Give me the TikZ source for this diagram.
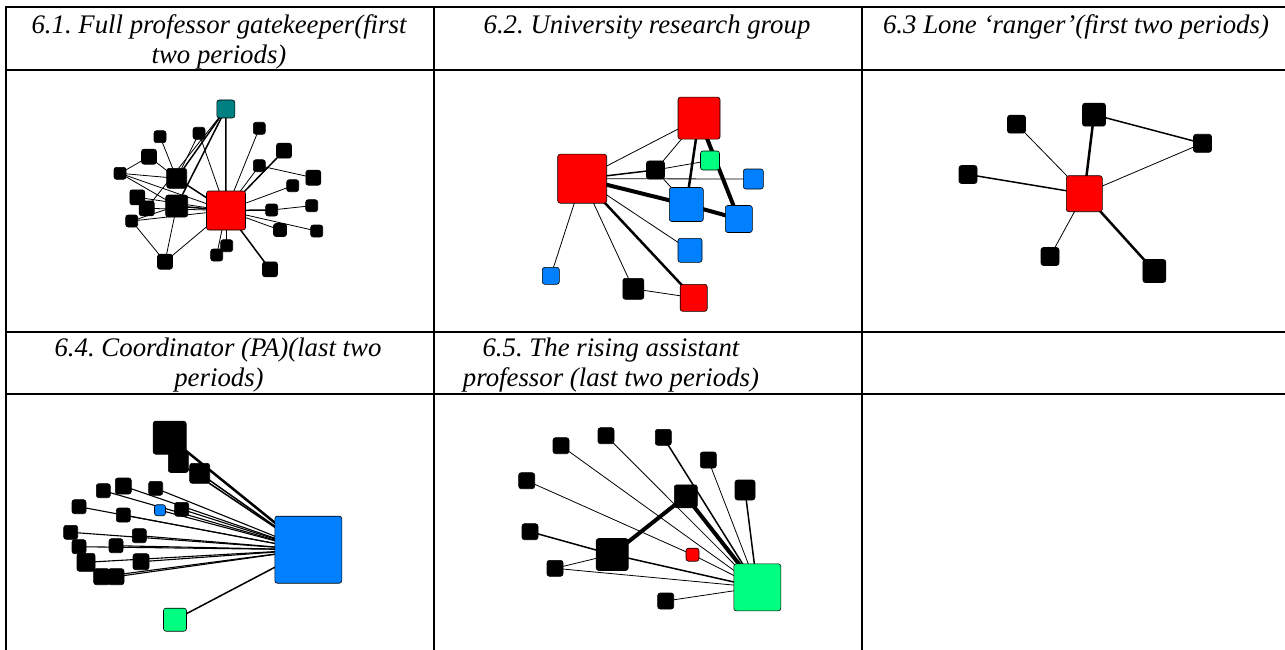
\documentclass[tikz,border=0pt]{standalone}
\usepackage{fontspec}
\setmainfont{Liberation Serif}
\usetikzlibrary{backgrounds}
\definecolor{nred}{RGB}{255,0,0}
\definecolor{nblue}{RGB}{0,128,255}
\definecolor{ngreen}{RGB}{0,255,128}
\definecolor{nteal}{RGB}{0,128,128}
\frenchspacing
\begin{document}
\begin{tikzpicture}[x=1pt,y=-1pt,
  grid/.style={line width=2pt, line cap=rect},
  hdr/.style={anchor=base, inner sep=0pt, font=\fontsize{26.8}{30}\selectfont\itshape},
  nd/.style={draw=black, line width=0.6pt, rounded corners=2.5pt, inner sep=0pt, outer sep=0pt, minimum size=#1},
  blk/.style={nd=#1, fill=black},
  rd/.style={nd=#1, fill=nred},
  bl/.style={nd=#1, fill=nblue},
  gr/.style={nd=#1, fill=ngreen},
  tl/.style={nd=#1, fill=nteal},
  ea/.style={line width=0.8pt},
  eb/.style={line width=1.5pt},
  ec/.style={line width=2.5pt},
  ed/.style={line width=4pt}]
\useasboundingbox (0,0) rectangle (1285,650);
% table grid
\draw[grid] (6,7.5) -- (1285,7.5);
\draw[grid] (6,70.5) -- (1285,70.5);
\draw[grid] (6,331.5) -- (1285,331.5);
\draw[grid] (6,393.5) -- (1285,393.5);
\draw[grid] (6,7.5) -- (6,651);
\draw[grid] (434,7.5) -- (434,651);
\draw[grid] (862,7.5) -- (862,651);
% headers
\node[hdr] (h1a) at (219,33.3) {6.1. Full professor gatekeeper(first};
\node[hdr] (h1b) at (219,63.3) {two periods)};
\node[hdr] (h2a) at (647,33.3) {6.2. University research group};
\node[hdr] (h3a) at (1076,33.3) {6.3 Lone ‘ranger’(first two periods)};
\node[hdr] (h4a) at (218,356.7) {6.4. Coordinator (PA)(last two};
\node[hdr] (h4b) at (219,386.7) {periods)};
\node[hdr] (h5a) at (611,356.7) {6.5. The rising assistant};
\node[hdr] (h5b) at (611,386.7) {professor (last two periods)};

% ---------- panel 1 ----------
\node[rd=39pt] (p1r) at (226,210.5) {};
\node[tl=18pt] (p1t) at (225.8,109) {};
\node[blk=12pt] (p1a) at (160,136.7) {};
\node[blk=12pt] (p1b) at (199,133.3) {};
\node[blk=12pt] (p1c) at (259.3,128.3) {};
\node[blk=15pt] (p1d) at (284,150.7) {};
\node[blk=15pt] (p1e) at (149,156.7) {};
\node[blk=12pt] (p1f) at (120,173.3) {};
\node[blk=20pt] (p1g) at (176.7,178.3) {};
\node[blk=12pt] (p1h) at (259.3,165.7) {};
\node[blk=15pt] (p1i) at (313.3,177.7) {};
\node[blk=12pt] (p1j) at (292.7,185.7) {};
\node[blk=15pt] (p1k) at (137.3,197.3) {};
\node[blk=15pt] (p1l) at (146.7,208.3) {};
\node[blk=22pt] (p1m) at (176.7,206) {};
\node[blk=12pt] (p1n) at (311.7,205.7) {};
\node[blk=12pt] (p1o) at (271.7,210) {};
\node[blk=12pt] (p1p) at (131.7,221) {};
\node[blk=13pt] (p1q) at (280,230) {};
\node[blk=12pt] (p1s) at (316.7,231) {};
\node[blk=12pt] (p1u) at (226.7,245.7) {};
\node[blk=12pt] (p1v) at (216.7,255) {};
\node[blk=15pt] (p1w) at (165,261.7) {};
\node[blk=15pt] (p1x) at (270,269.3) {};

% ---------- panel 2 ----------
\node[rd=49pt] (p2a) at (582.2,178.7) {};
\node[rd=42pt] (p2b) at (699,118.2) {};
\node[gr=19pt] (p2g) at (710,160.5) {};
\node[blk=18pt] (p2k) at (655.5,170) {};
\node[bl=20pt] (p2s) at (753.3,179) {};
\node[bl=34pt] (p2c) at (686.3,204.5) {};
\node[bl=27pt] (p2d) at (738.8,219) {};
\node[bl=24pt] (p2e) at (690,250.3) {};
\node[bl=17pt] (p2f) at (550.8,275.8) {};
\node[blk=21pt] (p2h) at (633.3,288.8) {};
\node[rd=27pt] (p2r) at (693.7,297.8) {};

% ---------- panel 3 ----------
\node[rd=36pt] (p3r) at (1084.3,193.7) {};
\node[blk=23pt] (p3a) at (1094,114.7) {};
\node[blk=18pt] (p3b) at (1202.5,143.3) {};
\node[blk=18pt] (p3c) at (1016.5,124.2) {};
\node[blk=18pt] (p3d) at (968,174.5) {};
\node[blk=18pt] (p3e) at (1050,256.5) {};
\node[blk=23pt] (p3f) at (1154.3,271) {};

% ---------- panel 4 ----------
\node[bl=67pt] (p4c) at (308.3,549.7) {};
\node[gr=23pt] (p4g) at (175,619.7) {};
\node[bl=11pt] (p4s) at (160,510.2) {};
\node[blk=33pt] (p4a) at (169.7,437.7) {};
\node[blk=20pt] (p4b) at (178.3,462.5) {};
\node[blk=20pt] (p4d) at (199.7,473.3) {};
\node[blk=14pt] (p4e) at (103.3,490.7) {};
\node[blk=16pt] (p4f) at (123.3,486) {};
\node[blk=14pt] (p4h) at (155.7,488.3) {};
\node[blk=14pt] (p4i) at (79,506.7) {};
\node[blk=14pt] (p4j) at (123.3,515) {};
\node[blk=14pt] (p4k) at (181.7,509.3) {};
\node[blk=14pt] (p4l) at (70.7,532.3) {};
\node[blk=14pt] (p4m) at (139.3,535.7) {};
\node[blk=14pt] (p4n) at (79,546.7) {};
\node[blk=14pt] (p4o) at (116,545.7) {};
\node[blk=18pt] (p4p) at (86,562.3) {};
\node[blk=16pt] (p4q) at (141,561.7) {};
\node[blk=16pt] (p4u) at (101.7,576.7) {};
\node[blk=16pt] (p4v) at (116,576.7) {};

% ---------- panel 5 ----------
\node[gr=47pt] (p5g) at (757.3,587.3) {};
\node[blk=32pt] (p5a) at (612.2,554.5) {};
\node[blk=23pt] (p5b) at (685.8,496.3) {};
\node[rd=13pt] (p5r) at (692.5,554.7) {};
\node[blk=16pt] (p5c) at (561,445.7) {};
\node[blk=16pt] (p5d) at (606,435.7) {};
\node[blk=16pt] (p5e) at (663.3,437.3) {};
\node[blk=16pt] (p5f) at (708.3,460) {};
\node[blk=20pt] (p5h) at (745,490) {};
\node[blk=16pt] (p5i) at (526.7,480.7) {};
\node[blk=16pt] (p5j) at (530,531.7) {};
\node[blk=16pt] (p5k) at (555,568.3) {};
\node[blk=16pt] (p5l) at (665.7,601) {};

\begin{pgfonlayer}{background}
\fill[white] (0,0) rectangle (1285,650);
% panel 1 edges
\draw[ea] (p1a.center) -- (p1g.center);
\draw[ea] (p1b.center) -- (p1r.center);
\draw[ea] (p1c.center) -- (p1r.center);
\draw[ea] (p1e.center) -- (p1f.center);
\draw[ea] (p1e.center) -- (p1g.center);
\draw[ea] (p1f.center) -- (p1g.center);
\draw[ea] (p1f.center) -- (p1r.center);
\draw[ea] (p1f.center) -- (p1m.center);
\draw[ea] (p1h.center) -- (p1r.center);
\draw[ea] (p1h.center) -- (p1i.center);
\draw[ea] (p1j.center) -- (p1r.center);
\draw[ea] (p1n.center) -- (p1o.center);
\draw[ea] (p1q.center) -- (p1r.center);
\draw[ea] (p1s.center) -- (p1r.center);
\draw[ea] (p1p.center) -- (p1m.center);
\draw[ea] (p1p.center) -- (p1w.center);
\draw[ea] (p1w.center) -- (p1m.center);
\draw[ea] (p1w.center) -- (p1r.center);
\draw[ea] (p1u.center) -- (p1r.center);
\draw[ea] (p1v.center) -- (p1r.center);
\draw[ea] (p1k.center) -- (p1r.center);
\draw[ea] (p1l.center) -- (p1r.center);
\draw[ea] (p1p.center) -- (p1r.center);
\draw[ea] (p1b.center) -- (p1g.center);
\draw[eb] (p1t.center) -- (p1g.center);
\draw[eb] (p1t.center) -- (p1m.center);
\draw[ea] (p1t.center) -- (p1l.center);
\draw[eb] (p1t.center) -- (p1r.center);
\draw[eb] (p1g.center) -- (p1r.center);
\draw[eb] (p1m.center) -- (p1r.center);
\draw[eb] (p1d.center) -- (p1r.center);
\draw[eb] (p1o.center) -- (p1r.center);
\draw[eb] (p1x.center) -- (p1r.center);
% panel 2 edges
\draw[ea] (p2a.center) -- (p2b.center);
\draw[eb] (p2a.center) -- (p2k.center);
\draw[ea] (p2a.center) -- (p2s.center);
\draw[ed] (p2a.center) -- (p2c.center);
\draw[ea] (p2a.center) -- (p2e.center);
\draw[ea] (p2a.center) -- (p2f.center);
\draw[ea] (p2a.center) -- (p2h.center);
\draw[ec] (p2a.center) -- (p2r.center);
\draw[ea] (p2b.center) -- (p2k.center);
\draw[ec] (p2b.center) -- (p2c.center);
\draw[ed] (p2b.center) -- (p2d.center);
\draw[ea] (p2k.center) -- (p2g.center);
\draw[ea] (p2k.center) -- (p2c.center);
\draw[ed] (p2c.center) -- (p2d.center);
\draw[ea] (p2h.center) -- (p2r.center);
% panel 3 edges
\draw[ec] (p3r.center) -- (p3a.center);
\draw[eb] (p3a.center) -- (p3b.center);
\draw[ea] (p3r.center) -- (p3b.center);
\draw[ea] (p3r.center) -- (p3c.center);
\draw[eb] (p3r.center) -- (p3d.center);
\draw[ea] (p3r.center) -- (p3e.center);
\draw[ec] (p3r.center) -- (p3f.center);
% panel 4 edges
\draw[ec] (p4a.center) -- (p4c.center);
\draw[eb] (p4b.center) -- (p4c.center);
\draw[eb] (p4d.center) -- (p4c.center);
\draw[eb] (p4g.center) -- (p4c.center);
\foreach \n in {p4s,p4e,p4f,p4h,p4i,p4j,p4k,p4l,p4m,p4n,p4o,p4p,p4q,p4u,p4v}
  \draw[line width=1.1pt] (\n.center) -- (p4c.center);
% panel 5 edges
\draw[ed] (p5a.center) -- (p5b.center);
\draw[ed] (p5b.center) -- (p5g.center);
\draw[eb] (p5a.center) -- (p5g.center);
\draw[eb] (p5h.center) -- (p5g.center);
\draw[ea] (p5c.center) -- (p5g.center);
\draw[ea] (p5d.center) -- (p5g.center);
\draw[eb] (p5e.center) -- (p5g.center);
\draw[ea] (p5f.center) -- (p5g.center);
\draw[ea] (p5i.center) -- (p5r.center);
\draw[ea] (p5r.center) -- (p5g.center);
\draw[eb] (p5j.center) -- (p5a.center);
\draw[ea] (p5k.center) -- (p5a.center);
\draw[ea] (p5k.center) -- (p5g.center);
\draw[ea] (p5l.center) -- (p5g.center);
\end{pgfonlayer}
\end{tikzpicture}
\end{document}
